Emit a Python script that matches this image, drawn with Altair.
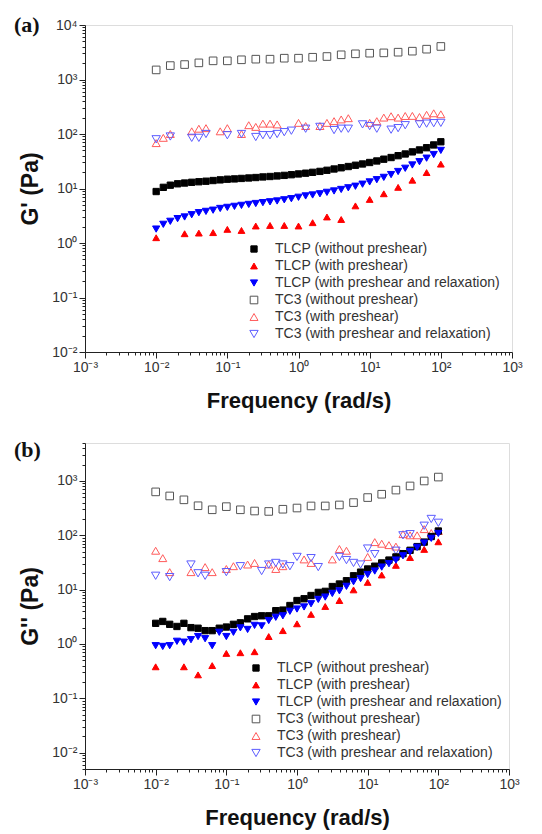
import altair as alt
import pandas as pd

# ---------------- data ----------------
F41 = [0.01, 0.0126, 0.0158, 0.02, 0.0251, 0.0316, 0.0398, 0.0501, 0.0631, 0.0794,
       0.1, 0.126, 0.158, 0.2, 0.251, 0.316, 0.398, 0.501, 0.631, 0.794,
       1, 1.26, 1.58, 2, 2.51, 3.16, 3.98, 5.01, 6.31, 7.94,
       10, 12.6, 15.8, 20, 25.1, 31.6, 39.8, 50.1, 63.1, 79.4, 100]
F21 = [0.01, 0.0158, 0.0251, 0.0398, 0.0631, 0.1, 0.158, 0.251, 0.398, 0.631,
       1, 1.58, 2.51, 3.98, 6.31, 10, 15.8, 25.1, 39.8, 63.1, 100]

NAMES = ["TLCP (without preshear)", "TLCP (with preshear)",
         "TLCP (with preshear and relaxation)", "TC3 (without preshear)",
         "TC3 (with preshear)", "TC3 (with preshear and relaxation)"]

# (a) storage modulus G'
A_TLCP_WO = [8.8, 10.5, 11.5, 12.2, 12.6, 13.0, 13.3, 13.6, 14.0, 14.4,
             14.8, 15.0, 15.3, 15.6, 15.9, 16.3, 16.6, 17.0, 17.4, 17.9,
             18.5, 19.1, 19.8, 20.6, 21.6, 22.8, 24.0, 25.3, 26.7, 28.2,
             30, 32, 34.5, 37, 40, 43, 47, 51, 56, 63, 72]
A_TLCP_PRE = [1.25, None, 1.48, 1.52, 1.55, 1.78, 1.7, 2.05, 2.1, 2.1,
              2.05, 2.36, 3.0, 2.7, 4.8, 6.3, 8.0, 10.5, 14.2, 19.6, 28]
A_TLCP_REL = [1.8, 2.2, 2.5, 2.8, 3.0, 3.3, 3.6, 3.8, 4.0, 4.3,
              4.5, 4.7, 4.9, 5.1, 5.3, 5.5, 5.7, 5.9, 6.2, 6.5,
              6.9, 7.3, 7.6, 8.0, 8.5, 9.0, 9.6, 10.3, 11.0, 12.0,
              13.2, 14.5, 16.0, 18.0, 20.5, 23.5, 27, 31, 36, 42, 50]
A_TC3_WO = [1500, 1800, 1880, 2020, 2200, 2200, 2300, 2360, 2360, 2460,
            2460, 2560, 2640, 2840, 2960, 3040, 3080, 3170, 3310, 3600, 4040]
A_TC3_PRE = [68, 85, 100, None, None, 112, 125, 128, None, 112,
             128, None, 100, 145, 135, 155, 155, 150, None, None,
             160, 140, None, 140, 160, 172, 185, 195, None, None,
             160, 172, 200, 212, 200, 214, 215, 205, 225, 240, 230]
A_TC3_REL = [80, None, 90, None, None, 85, 85, 100, None, None,
             95, None, 100, None, 88, 95, 95, 100, 108, 115,
             None, 125, None, 135, None, 118, 125, 125, None, 150,
             140, 125, None, 120, 128, 145, None, 150, 155, 158, 160]

# (b) loss modulus G''
B_TLCP_WO = [2.4, 2.6, 2.3, 2.1, 2.4, 2.0, 1.95, 1.76, 1.76, 1.95,
             2.05, 2.3, 2.45, 2.9, 3.2, 3.3, 3.3, 4.1, 4.2, 5.1,
             6.3, 6.8, 7.8, 8.9, 9.3, 11.4, 12.7, 14.6, 18, 21,
             24, 27, 31, 35, 40, 46, 53, 62, 75, 95, 120]
B_TLCP_PRE = [0.38, None, 0.38, 0.27, 0.4, 0.67, 0.69, 0.72, 1.37, 1.76,
              2.35, 3.5, 4.9, 6.3, 9.9, 13.6, 18.6, 28, 39, 55, 76]
B_TLCP_REL = [0.93, 0.9, 0.93, 1.12, 1.08, 1.2, 1.37, 1.25, 0.93, 1.64,
              1.37, 1.64, 1.98, 1.85, 2.2, 2.15, 2.7, 3.1, 3.3, 4.0,
              4.4, 4.8, 5.5, 6.6, 7.3, 8.5, 9.5, 11.5, 14, 16,
              19, 22, 26, 30, 35, 42, 50, 60, 72, 88, 108]
B_TC3_WO = [630, 530, 450, 350, 295, 337, 295, 280, 275, 302,
            318, 347, 347, 362, 400, 495, 570, 680, 810, 1000, 1180]
B_TC3_PRE = [52, 38, 21, None, None, 21, None, 26, 21, None,
             24, 27, None, 29, 31, None, 29, 24, 27, None,
             None, 36, 31, None, None, 36, 56, 52, None, None,
             40, 75, 70, 66, 62, 105, 100, 100, 130, 110, 120]
B_TC3_REL = [18, None, 17, None, None, 29, 20, 18, None, None,
             21, None, 27, None, None, 22, 29, 31, 29, 27,
             40, None, 38, 26, None, None, 40, 35, 31, 29,
             57, 45, None, None, 52, 100, 105, None, 150, 200, 170]

SHAPES = ["square", "triangle-up", "triangle-down", "square", "triangle-up", "triangle-down"]
STROKES = ["#000000", "#ff0000", "#0000ff", "#555555", "#ff5a5a", "#5c5cff"]
FILLS = ["#000000", "#ff0000", "#0000ff", "transparent", "transparent", "transparent"]
SIZES = [40, 70, 70, 45, 80, 80]


def make_df(wo, pre, rel, t_wo, t_pre, t_rel):
    rows = []
    order = [(NAMES[3], F21, t_wo), (NAMES[4], F41, t_pre), (NAMES[5], F41, t_rel),
             (NAMES[0], F41, wo), (NAMES[1], F21, pre), (NAMES[2], F41, rel)]
    for name, fr, vals in order:
        for f, v in zip(fr, vals):
            if v is not None:
                rows.append({"series": name, "f": f, "g": v})
    return pd.DataFrame(rows)


MAJOR = "abs(log(datum.value)/LN10 - round(log(datum.value)/LN10)) < 0.001"
LABEL = (MAJOR + " ? '10' + ['⁻³','⁻²','⁻¹','⁰','¹','²','³','⁴']"
         "[round(log(datum.value)/LN10) + 3] : ''")
TICKSIZE = {"condition": {"test": MAJOR, "value": 6}, "value": 3}


def ticks(lo, hi):
    out = []
    for e in range(-3, 5):
        for m in range(1, 10):
            v = m * 10.0 ** e
            if lo * 0.9999 <= v <= hi * 1.0001:
                out.append(v)
    return out


def panel(df, ytitle, ydom, letter, lx, ly, letter_y, width, height):
    legend = alt.Legend(title=None, orient="none", legendX=lx, legendY=ly,
                        padding=0, labelFontSize=14, labelFont="Liberation Sans",
                        labelColor="#333333", rowPadding=3, labelOffset=14,
                        labelLimit=400, symbolStrokeWidth=1)
    xaxis = alt.Axis(values=ticks(1e-3, 1e3), labelExpr=LABEL, tickSize=TICKSIZE,
                     labelOverlap=False, labelFlush=False, grid=False,
                     title="Frequency (rad/s)", titleFontSize=22, titleFontWeight="bold",
                     titleFont="Liberation Sans", titleColor="#111111", titlePadding=16,
                     labelFontSize=14, labelFont="Liberation Sans", labelColor="#333333",
                     labelPadding=2, domainColor="#222222", tickColor="#222222")
    yaxis = alt.Axis(values=ticks(ydom[0], ydom[1]), labelExpr=LABEL, tickSize=TICKSIZE,
                     labelOverlap=False, labelFlush=False, grid=False,
                     title=ytitle, titleFontSize=23, titleFontWeight="bold",
                     titleFont="Liberation Sans", titleColor="#111111", titlePadding=9,
                     labelFontSize=14, labelFont="Liberation Sans", labelColor="#333333",
                     labelPadding=2, domainColor="#222222", tickColor="#222222")
    pts = alt.Chart(df).mark_point(opacity=1, strokeWidth=1).encode(
        x=alt.X("f:Q", scale=alt.Scale(type="log", domain=[1e-3, 1e3]), axis=xaxis),
        y=alt.Y("g:Q", scale=alt.Scale(type="log", domain=ydom), axis=yaxis),
        shape=alt.Shape("series:N", scale=alt.Scale(domain=NAMES, range=SHAPES), legend=legend),
        stroke=alt.Stroke("series:N", scale=alt.Scale(domain=NAMES, range=STROKES), legend=legend),
        fill=alt.Fill("series:N", scale=alt.Scale(domain=NAMES, range=FILLS), legend=legend),
        size=alt.Size("series:N", scale=alt.Scale(domain=NAMES, range=SIZES), legend=legend),
    )
    lab = alt.Chart(pd.DataFrame({"t": [letter]})).mark_text(
        font="Liberation Serif", fontWeight="bold", fontSize=22, align="left",
        baseline="top", color="#111111"
    ).encode(text="t:N", x=alt.value(-71), y=alt.value(letter_y))
    return alt.layer(pts, lab).properties(width=width, height=height)


top = panel(make_df(A_TLCP_WO, A_TLCP_PRE, A_TLCP_REL, A_TC3_WO, A_TC3_PRE, A_TC3_REL),
            "G' (Pa)", [1e-2, 1e4], "(a)", 162, 217, -10, 427, 327)
bottom = panel(make_df(B_TLCP_WO, B_TLCP_PRE, B_TLCP_REL, B_TC3_WO, B_TC3_PRE, B_TC3_REL),
               "G'' (Pa)", [5e-3, 5e3], "(b)", 164, 218, -3, 424, 326)

chart = alt.vconcat(top, bottom, spacing=23).resolve_scale(
    shape="independent", stroke="independent", fill="independent", size="independent"
).resolve_legend(
    shape="independent", stroke="independent", fill="independent", size="independent"
).configure_view(stroke="#222222", strokeWidth=1.2).configure(background="white")

chart.save("out.html", embed_options={"renderer": "svg", "actions": False})
